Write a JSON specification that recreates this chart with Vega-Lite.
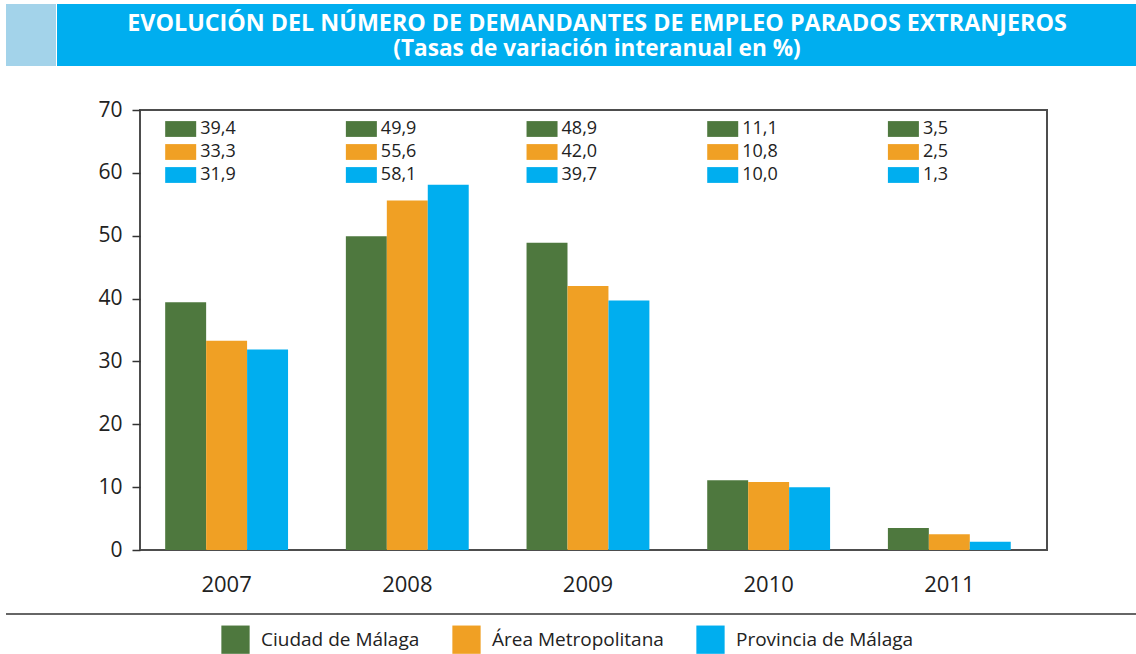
{
  "$schema": "https://vega.github.io/schema/vega-lite/v6.json",
  "padding": {"left": 5, "top": 4, "right": 0, "bottom": 0},
  "background": "white",
  "config": {
    "font": "Open Sans",
    "locale": {"number": {"decimal": ",", "thousands": ".", "grouping": [3], "currency": ["", " €"]}},
    "view": {"stroke": null}
  },
  "datasets": {
    "demandantes": [
      {"anio": "2007", "serie": "Ciudad de Málaga", "tasa": 39.4},
      {"anio": "2007", "serie": "Área Metropolitana", "tasa": 33.3},
      {"anio": "2007", "serie": "Provincia de Málaga", "tasa": 31.9},
      {"anio": "2008", "serie": "Ciudad de Málaga", "tasa": 49.9},
      {"anio": "2008", "serie": "Área Metropolitana", "tasa": 55.6},
      {"anio": "2008", "serie": "Provincia de Málaga", "tasa": 58.1},
      {"anio": "2009", "serie": "Ciudad de Málaga", "tasa": 48.9},
      {"anio": "2009", "serie": "Área Metropolitana", "tasa": 42.0},
      {"anio": "2009", "serie": "Provincia de Málaga", "tasa": 39.7},
      {"anio": "2010", "serie": "Ciudad de Málaga", "tasa": 11.1},
      {"anio": "2010", "serie": "Área Metropolitana", "tasa": 10.8},
      {"anio": "2010", "serie": "Provincia de Málaga", "tasa": 10.0},
      {"anio": "2011", "serie": "Ciudad de Málaga", "tasa": 3.5},
      {"anio": "2011", "serie": "Área Metropolitana", "tasa": 2.5},
      {"anio": "2011", "serie": "Provincia de Málaga", "tasa": 1.3}
    ],
    "cabecera": [
      {"titulo": "EVOLUCIÓN DEL NÚMERO DE DEMANDANTES DE EMPLEO PARADOS EXTRANJEROS", "subtitulo": "(Tasas de variación interanual en %)"}
    ]
  },
  "vconcat": [
    {
      "hconcat": [
        {
          "width": 50, "height": 62,
          "view": {"fill": "#A3D3EA", "stroke": null},
          "data": {"values": [{}]},
          "mark": {"type": "text", "text": ""},
          "encoding": {}
        },
        {
          "width": 1080, "height": 62,
          "view": {"fill": "#00AEEF", "stroke": null},
          "data": {"name": "cabecera"},
          "layer": [
            {
              "mark": {"type": "text", "color": "white", "fontWeight": "bold", "fontSize": 23.3, "baseline": "middle", "align": "center", "dy": -11.5},
              "encoding": {"text": {"field": "titulo"}}
            },
            {
              "mark": {"type": "text", "color": "white", "fontWeight": "bold", "fontSize": 22.6, "baseline": "middle", "align": "center", "dy": 14},
              "encoding": {"text": {"field": "subtitulo"}}
            }
          ]
        }
      ],
      "spacing": 1
    },
    {
      "vconcat": [
        {
          "hconcat": [
            {
              "width": 134, "height": 440,
              "data": {"values": [{}]},
              "mark": {"type": "text", "text": ""},
              "encoding": {}
            },
            {
              "width": 907, "height": 440,
              "view": {"stroke": "#4d4d4d", "strokeWidth": 2},
              "data": {"name": "demandantes"},
              "layer": [
                {
                  "mark": {"type": "bar"},
                  "encoding": {
                    "x": {"field": "anio", "type": "nominal", "scale": {"paddingInner": 0.32, "paddingOuter": 0.17, "align": 0.41},
                          "axis": {"title": null, "labelAngle": 0, "labelFontSize": 22, "labelColor": "#222", "domain": false, "ticks": false, "labelPadding": 24}},
                    "xOffset": {"field": "serie", "type": "nominal", "scale": {"domain": ["Ciudad de Málaga", "Área Metropolitana", "Provincia de Málaga"]}},
                    "y": {"field": "tasa", "type": "quantitative", "scale": {"domain": [0, 70], "nice": false},
                          "axis": {"title": null, "values": [0, 10, 20, 30, 40, 50, 60, 70], "labelFontSize": 21, "labelColor": "#222", "domain": false, "grid": false, "tickSize": 8, "tickColor": "#333", "tickWidth": 1.5, "labelPadding": 10}},
                    "color": {"field": "serie", "type": "nominal",
                              "scale": {"domain": ["Ciudad de Málaga", "Área Metropolitana", "Provincia de Málaga"], "range": ["#4E783E", "#F0A024", "#00AEEF"]},
                              "legend": {"orient": "none", "legendX": 215, "legendY": 621, "direction": "horizontal", "title": null, "symbolType": "square", "symbolSize": 800, "symbolStrokeWidth": 0, "labelFontSize": 19, "labelColor": "#222", "labelOffset": 11, "labelLimit": 400, "columnPadding": 32}}
                  }
                },
                {
                  "mark": {"type": "point", "shape": "M0,-0.51H2V0.51H0Z", "filled": true, "opacity": 1, "size": 961, "strokeWidth": 0},
                  "encoding": {
                    "x": {"field": "anio", "type": "nominal", "bandPosition": 0},
                    "y": {"field": "serie", "type": "nominal", "scale": {"domain": ["Ciudad de Málaga", "Área Metropolitana", "Provincia de Málaga"], "range": [19, 65], "padding": 0}, "axis": null},
                    "color": {"field": "serie", "type": "nominal"}
                  }
                },
                {
                  "mark": {"type": "text", "align": "left", "baseline": "middle", "dx": 35, "fontSize": 18, "color": "#222"},
                  "encoding": {
                    "x": {"field": "anio", "type": "nominal", "bandPosition": 0},
                    "y": {"field": "serie", "type": "nominal", "scale": {"domain": ["Ciudad de Málaga", "Área Metropolitana", "Provincia de Málaga"], "range": [19, 65], "padding": 0}, "axis": null},
                    "text": {"field": "tasa", "type": "quantitative", "format": ".1f"}
                  }
                }
              ],
              "resolve": {"scale": {"y": "independent"}}
            }
          ],
          "spacing": 0,
          "bounds": "flush"
        },
        {
          "width": 1131, "height": 1,
          "data": {"values": [{"v": 1}]},
          "mark": {"type": "rule", "color": "#333", "strokeWidth": 1.5},
          "encoding": {"y": {"field": "v", "type": "quantitative", "scale": {"domain": [0, 1]}, "axis": null}}
        }
      ],
      "spacing": 17
    }
  ],
  "spacing": 32
}
